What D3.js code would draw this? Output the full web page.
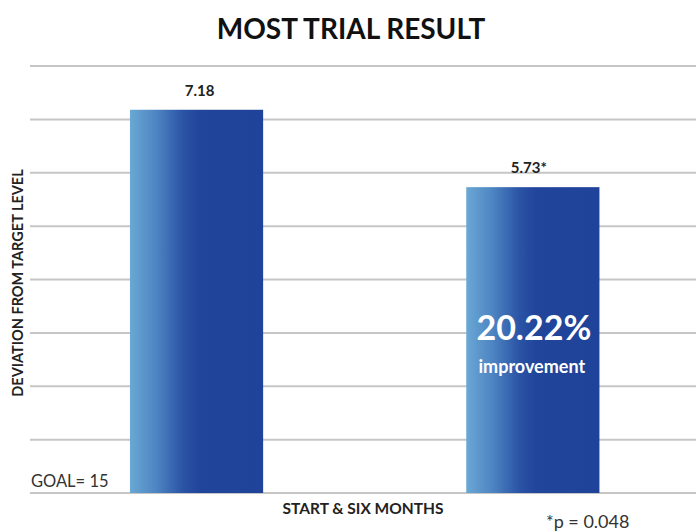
<!DOCTYPE html>
<html><head><meta charset="utf-8">
<script src="https://cdn.jsdelivr.net/npm/d3@7"></script>
<style>html,body{margin:0;padding:0;background:#fff;}svg{display:block;}</style>
</head><body>
<script>
const categories = ["Start", "Six months"];
const values = [7.18, 5.73];
const valueLabels = ["7.18", "5.73*"];
const yTicks = [0, 1, 2, 3, 4, 5, 6, 7, 8];

const W = 696, H = 531;
const svg = d3.select("body").append("svg").attr("width", W).attr("height", H);
const font = "Lato, 'Open Sans', sans-serif";

const defs = svg.append("defs");
const grad = defs.append("linearGradient").attr("id", "barGrad").attr("x1", "0").attr("x2", "1").attr("y1", "0").attr("y2", "0");
grad.append("stop").attr("offset", "0").attr("stop-color", "#6aa8d4");
grad.append("stop").attr("offset", "0.2").attr("stop-color", "#4d84c2");
grad.append("stop").attr("offset", "0.4").attr("stop-color", "#2a53a5");
grad.append("stop").attr("offset", "0.52").attr("stop-color", "#21459b");
grad.append("stop").attr("offset", "1").attr("stop-color", "#1f4398");

const y = d3.scaleLinear().domain([0, 8]).range([493, 66]);
const x = d3.scaleBand().domain(categories).range([62.7, 666.7]).paddingInner(0.604).paddingOuter(0.2);

// gridlines
svg.append("g").selectAll("line").data(yTicks).join("line")
  .attr("x1", 30).attr("x2", W)
  .attr("y1", d => y(d)).attr("y2", d => y(d))
  .attr("stroke", "#c6c6c6").attr("stroke-width", 2);

// bars
svg.append("g").selectAll("rect").data(values).join("rect")
  .attr("x", (d, i) => x(categories[i]))
  .attr("width", x.bandwidth())
  .attr("y", d => y(d))
  .attr("height", d => y(0) - y(d))
  .attr("fill", "url(#barGrad)");

// value labels
svg.append("g").selectAll("text").data(values).join("text")
  .attr("x", (d, i) => x(categories[i]) + x.bandwidth() / 2 + (i === 1 ? -4 : 3))
  .attr("y", d => y(d) - 14)
  .attr("text-anchor", "middle")
  .attr("font-family", font).attr("font-weight", "bold").attr("font-size", 15)
  .attr("fill", "#222")
  .text((d, i) => valueLabels[i]);

// title
svg.append("text").attr("x", 351).attr("y", 39).attr("text-anchor", "middle")
  .attr("font-family", font).attr("font-weight", "bold").attr("font-size", 28)
  .attr("fill", "#111").text("MOST TRIAL RESULT");

// improvement text
const cx2 = x(categories[1]) + x.bandwidth() / 2;
svg.append("text").attr("x", cx2 + 1).attr("y", 340).attr("text-anchor", "middle")
  .attr("font-family", font).attr("font-weight", "bold").attr("font-size", 34).attr("fill", "#fff").text("20.22%");
svg.append("text").attr("x", cx2 - 1).attr("y", 373).attr("text-anchor", "middle")
  .attr("font-family", font).attr("font-weight", "bold").attr("font-size", 18).attr("fill", "#fff").text("improvement");

// y-axis label
svg.append("text").attr("transform", "translate(23,283) rotate(-90)").attr("text-anchor", "middle")
  .attr("font-family", font).attr("font-weight", "bold").attr("font-size", 14.5)
  .attr("fill", "#222").text("DEVIATION FROM TARGET LEVEL");

// goal
svg.append("text").attr("x", 31).attr("y", 487)
  .attr("font-family", font).attr("font-size", 16.5).attr("fill", "#333").text("GOAL= 15");

// x-axis label
svg.append("text").attr("x", 363).attr("y", 514).attr("text-anchor", "middle")
  .attr("font-family", font).attr("font-weight", "bold").attr("font-size", 15.5)
  .attr("fill", "#222").text("START & SIX MONTHS");

// p value
svg.append("text").attr("x", 546).attr("y", 528)
  .attr("font-family", font).attr("font-size", 18).attr("fill", "#333").text("*p = 0.048");
</script>
</body></html>
